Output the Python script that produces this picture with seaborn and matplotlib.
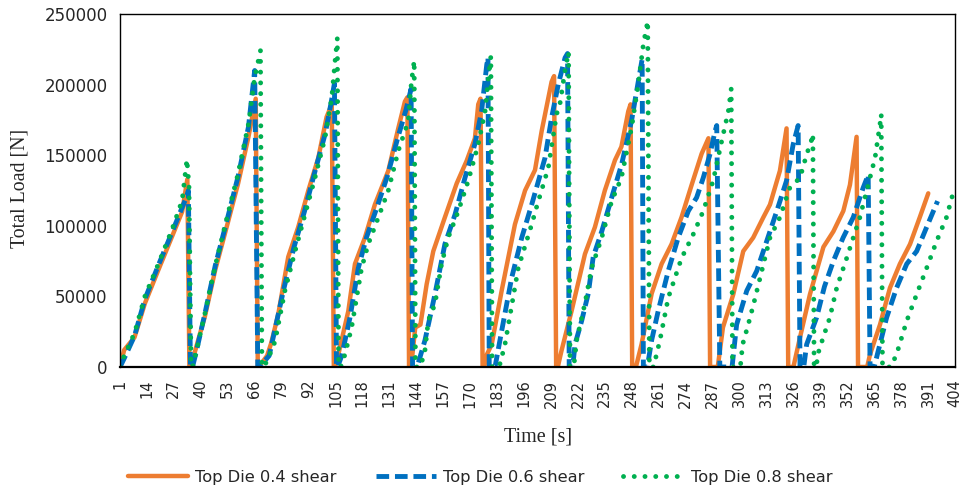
import matplotlib
matplotlib.use("Agg")
import matplotlib.pyplot as plt
import seaborn as sns
import pandas as pd

# Total load on the top die over time for three shear ratios
time_04 = [1, 3, 8, 13, 19.5, 26, 31, 33.5, 34.5,
           35.5, 37, 42, 47, 53, 58, 63, 66.5, 67.5,
           69.5, 72, 74, 77.4, 82.2, 87, 91.9, 96.7, 100.7, 103.2, 104.2,
           104.8, 106.4, 111.2, 114.4, 119.2, 124, 130.5, 135.3, 138.5, 139.7, 140.5,
           141.5, 143.5, 146, 149, 152.2, 157.8, 163.5, 168.3, 172.3, 173.9, 175, 176,
           176.8, 177.8, 180.4, 185.2, 191.6, 196.5, 201.3, 204.5, 209.3, 210.5, 211.5,
           212.3, 214, 219, 225.4, 230.2, 235, 239.9, 243, 246.3, 247.4, 248.2,
           250, 252.7, 257.6, 262.4, 267.2, 272, 276.9, 281.7, 285, 285.8,
           289.5, 292, 297, 301.8, 306.6, 311.5, 314.7, 319.5, 322.7, 323.5,
           326, 329.2, 334, 337.2, 340.5, 345.3, 350.1, 353.3, 356.5, 357.2,
           361.6, 363, 367.8, 372.6, 377.4, 382.3, 387, 391.1]
load_04 = [0, 12000, 21000, 45000, 68700, 92000, 110000, 133000, 0,
           0, 10000, 36000, 69000, 102000, 130000, 163000, 190000, 0,
           3000, 8000, 17000, 37500, 78000, 99000, 125000, 148000, 177000, 186000, 0,
           0, 9000, 39700, 73000, 91600, 115000, 139000, 169000, 188000, 191000, 0,
           0, 28000, 30000, 58600, 82000, 106000, 130000, 146000, 162000, 186000, 190000, 0,
           0, 8000, 16000, 54000, 101000, 125000, 139500, 167000, 202000, 206000, 0,
           0, 11000, 40000, 80000, 99000, 125000, 146500, 156000, 181000, 186000, 0,
           0, 16000, 52000, 73000, 87000, 106000, 129000, 151000, 162000, 0,
           0, 28000, 51500, 82000, 91600, 106000, 115000, 139000, 169000, 0,
           0, 21000, 51500, 68000, 85000, 96000, 110500, 129000, 163000, 0,
           0, 9000, 30000, 56000, 73000, 87000, 106000, 123000]

time_06 = [1, 3, 8, 13, 19.5, 26, 31, 33, 34, 35,
           36, 38, 42, 47, 53, 58, 63, 66, 67.5,
           68.5, 70, 73, 76, 80, 85, 90, 95, 100, 103, 104.5, 105.5,
           106, 108, 112, 116, 120, 125, 130, 135, 139, 141.5, 142.2,
           143, 145, 148.2, 153, 157.8, 162.7, 167.5, 172.3, 175.5, 178, 178.6, 179.2,
           182, 185.2, 190, 194.9, 199.7, 206.1, 209.3, 212.5, 215.8, 217, 217.8,
           219.5, 220.6, 223.8, 227, 229.4, 233.5, 238.3, 243.1, 247.9, 250.3, 253, 253.6,
           255.5, 257.6, 260.8, 265.6, 270.4, 275.3, 279.3, 282.5, 285.7, 288.2, 289, 290.5,
           296.4, 298.6, 303.5, 308.3, 313.1, 318, 322.7, 325.9, 328.3, 329.2,
           331, 332.4, 337.2, 341, 345.3, 350, 354.9, 359.7, 362.1, 363,
           365, 366.2, 371, 375.8, 380.7, 385.5, 390.3, 395.6]
load_06 = [0, 6000, 22000, 48000, 72000, 95000, 113000, 120000, 125000, 0,
           0, 12000, 38000, 72000, 106000, 135000, 170000, 210000, 0,
           0, 3000, 8000, 28000, 55000, 85000, 110000, 138000, 165000, 188000, 201000, 0,
           0, 8000, 35000, 70000, 92000, 113000, 135000, 162000, 182000, 197000, 0,
           0, 3000, 19000, 51500, 87000, 108000, 134000, 158000, 181000, 214000, 219000, 0,
           0, 25500, 63000, 91600, 115000, 148000, 176500, 200000, 219000, 222000, 0,
           0, 16000, 32600, 52000, 78000, 96000, 120000, 143500, 174500, 195000, 218000, 0,
           0, 19000, 40000, 68000, 91600, 110500, 120000, 134000, 150500, 167000, 171000, 0,
           0, 30000, 54000, 68000, 89000, 110500, 132000, 157700, 171000, 0,
           0, 16000, 35000, 57000, 75000, 91600, 106000, 127000, 136000, 0,
           0, 7000, 35000, 56000, 73000, 82000, 99000, 117500]

time_08 = [1, 3, 8, 13, 19.5, 26, 31, 33.3, 34.3, 35.3,
           36, 38, 42, 47, 53, 58, 63, 66, 68.8, 69.5,
           70, 72, 75.8, 80.6, 85.5, 90.3, 95.1, 99.9, 103.2, 104.8, 105.9, 106.5,
           107.5, 109.6, 112.8, 117.6, 120.8, 125.7, 130.5, 135.3, 140.1, 141.7, 143, 143.6,
           146, 148.2, 149.8, 153, 156.2, 159.4, 164.3, 169.1, 173.9, 177.2, 178.8, 180, 180.6,
           184, 186.8, 193.2, 199.7, 202, 207.7, 211.7, 213.3, 215.8, 217.5, 218.2,
           220, 221.4, 225.4, 228.6, 233.5, 238.3, 243, 247.9, 251.1, 253.6, 255.7, 256.5,
           258.5, 261.6, 265.6, 272, 278, 282.5, 287.3, 291.4, 294.6, 296, 296.6,
           300.4, 301.5, 304.2, 306.7, 309.9, 314.7, 319.5, 324.3, 329.2, 332.4, 334.8, 335.4, 336,
           337, 338, 340.4, 343.6, 346.9, 351.7, 354.9, 358.1, 361.4, 365.4, 367.8, 368.4, 369,
           373, 375.8, 380.7, 385.5, 390.3, 395.1, 399.9, 403.6]
load_08 = [0, 8000, 24000, 50000, 73000, 97000, 118000, 147000, 128000, 0,
           0, 12000, 38000, 72000, 108000, 137000, 172000, 205000, 224000, 0,
           0, 4000, 18000, 54000, 82000, 108000, 134000, 162000, 190700, 216700, 233000, 0,
           0, 9000, 28000, 70000, 87000, 106000, 125000, 153000, 174000, 202500, 217000, 0,
           0, 12000, 33000, 44500, 73000, 91600, 110500, 132000, 157700, 181000, 205000, 220000, 0,
           0, 16000, 70000, 101000, 113000, 141000, 179000, 186000, 210000, 223000, 0,
           0, 19000, 45000, 70000, 91600, 117500, 134000, 169500, 200000, 228600, 245000, 0,
           0, 19000, 49000, 77000, 95000, 110500, 132000, 160000, 181000, 197000, 0,
           0, 16000, 30000, 44000, 63000, 91600, 106000, 127000, 134000, 150500, 161000, 165000, 0,
           0, 10000, 21000, 35000, 56000, 77000, 91600, 106000, 125000, 148000, 172000, 179000, 0,
           0, 9000, 32600, 51500, 70000, 89000, 106000, 126000]

series_names = ["Top Die 0.4 shear", "Top Die 0.6 shear", "Top Die 0.8 shear"]
x_ticks = list(range(1, 405, 13))
y_ticks = [0, 50000, 100000, 150000, 200000, 250000]

sns.set_style("white")
plt.rcParams["font.family"] = ["DejaVu Sans"]

fig = plt.figure(figsize=(9.61, 4.86), dpi=100)
ax = fig.add_axes([120 / 961, 1 - 367 / 486, 835 / 961, 353 / 486])

frames = [
    pd.DataFrame({"Time": time_04, "Load": load_04}),
    pd.DataFrame({"Time": time_06, "Load": load_06}),
    pd.DataFrame({"Time": time_08, "Load": load_08}),
]
colors = ["#ED7D31", "#0070C0", "#00B050"]
widths = [3.2, 3.5, 3.5]
styles = ["-", (0, (2.6, 1.2)), (0, (0.01, 2.2))]
caps = ["butt", "butt", "round"]

for df, name, col, lw, ls, cap in zip(frames, series_names, colors, widths, styles, caps):
    sns.lineplot(data=df, x="Time", y="Load", ax=ax, color=col, linewidth=lw,
                 estimator=None, sort=False, label=name)
    line = ax.lines[-1]
    line.set_linestyle(ls)
    line.set_dash_capstyle(cap)
    line.set_solid_joinstyle("round")
    line.set_dash_joinstyle("round")

if ax.get_legend() is not None:
    ax.get_legend().remove()

ax.set_xlim(1, 404)
ax.set_ylim(0, 250000)
ax.set_xticks(x_ticks)
ax.set_xticklabels([str(t) for t in x_ticks], rotation=90, fontsize=10.5)
ax.set_yticks(y_ticks)
ax.set_yticklabels([str(v) for v in y_ticks], fontsize=12)
ax.tick_params(axis="both", length=0)
ax.tick_params(axis="x", pad=9)
ax.tick_params(axis="y", pad=9)
ax.set_xlabel("")
ax.set_ylabel("")
for side in ["left", "top", "right"]:
    ax.spines[side].set_color("black")
    ax.spines[side].set_linewidth(1.0)
ax.spines["bottom"].set_color("black")
ax.spines["bottom"].set_linewidth(1.6)

fig.text(20 / 961, 1 - 188 / 486, "Total Load [N]", rotation=90, ha="center", va="center",
         family="Liberation Serif", fontsize=14.3)
fig.text(538 / 961, 1 - 437 / 486, "Time [s]", ha="center", va="center",
         family="Liberation Serif", fontsize=14.5)

handles, labels = ax.get_legend_handles_labels()
fig.legend(handles, labels, loc="center", bbox_to_anchor=(480 / 961, 1 - 477 / 486),
           ncol=3, frameon=False, fontsize=11.7, handlelength=3.7, handletextpad=0.45,
           columnspacing=2.4, borderpad=0, borderaxespad=0)

fig.savefig("out.png", dpi=100)
